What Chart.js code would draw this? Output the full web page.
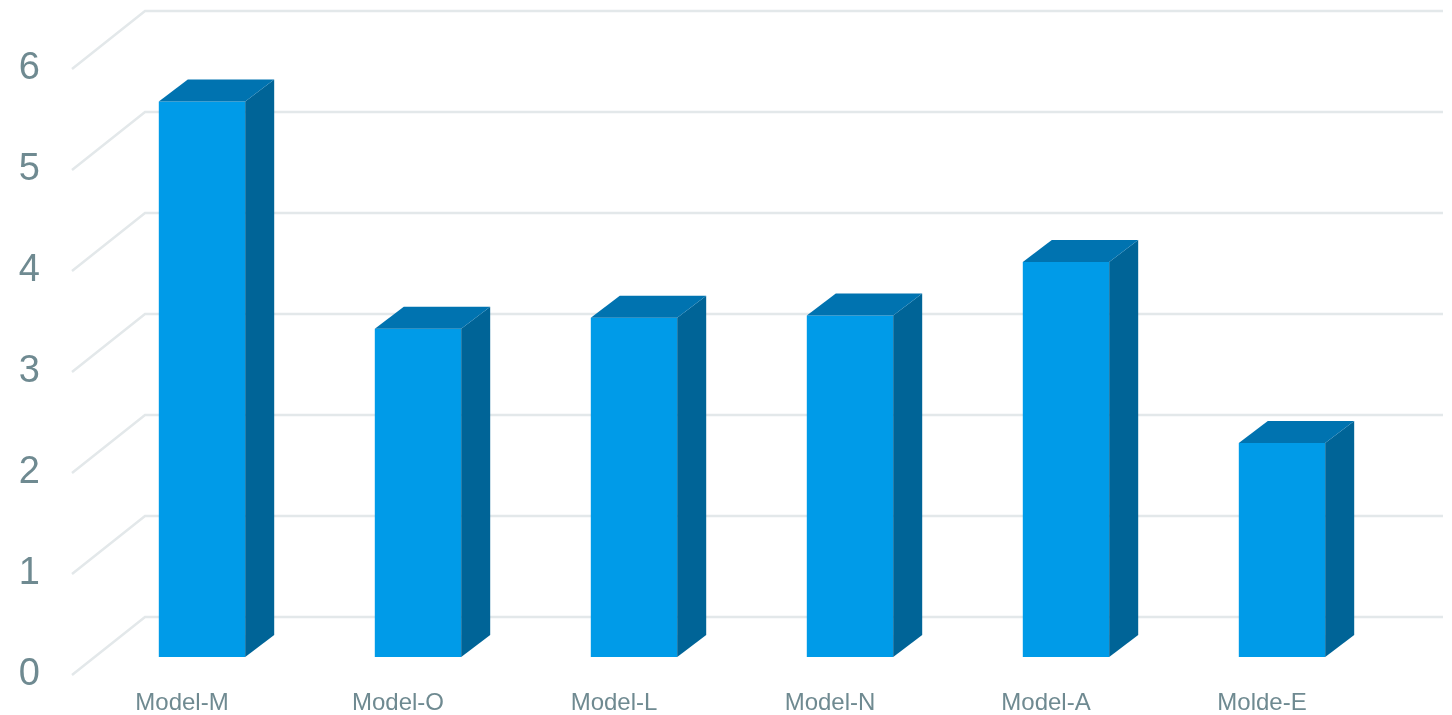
<!DOCTYPE html>
<html>
<head>
<meta charset="utf-8">
<script src="https://cdn.jsdelivr.net/npm/chart.js@4.4.1/dist/chart.umd.min.js"></script>
<style>
    html, body { margin: 0; padding: 0; background: #ffffff; }
    #chartBox { width: 1452px; height: 715px; }
</style>
</head>
<body>
<div id="chartBox"><canvas id="barChart" width="1452" height="715"></canvas></div>
<script>
const categories = ['Model-M', 'Model-O', 'Model-L', 'Model-N', 'Model-A', 'Molde-E'];
const scores = [5.5, 3.25, 3.36, 3.38, 3.91, 2.12];
const yTicks = [0, 1, 2, 3, 4, 5, 6];

// 3D look: bar depth and the floor/wall offsets relative to the bar plane
const DEPTH_X = 29, DEPTH_Y = -22;
const FRONT_OFF = 18, BACK_OFF = -40;
const WALL_LEFT = 72, WALL_BACK = 145, WALL_RIGHT = 1443;

const FRONT_COLOR = '#009be8';
const TOP_COLOR = '#0073b0';
const SIDE_COLOR = '#006497';
const LABEL_COLOR = '#6f8a91';
const GRID_COLOR = '#e3e8ea';

// Side wall + back wall gridlines, drawn behind the bars
const wallGrid = {
    id: 'wallGrid',
    beforeDatasetsDraw(chart) {
        const ctx = chart.ctx;
        const y = chart.scales.y;
        ctx.save();
        ctx.strokeStyle = GRID_COLOR;
        ctx.lineWidth = 2.5;
        yTicks.forEach(v => {
            const py = y.getPixelForValue(v);
            ctx.beginPath();
            ctx.moveTo(WALL_LEFT, py + FRONT_OFF);
            ctx.lineTo(WALL_BACK, py + BACK_OFF);
            ctx.lineTo(WALL_RIGHT, py + BACK_OFF);
            ctx.stroke();
        });
        ctx.restore();
    }
};

// Top and side faces on each bar
const barFaces = {
    id: 'barFaces',
    afterDatasetsDraw(chart) {
        const ctx = chart.ctx;
        const meta = chart.getDatasetMeta(0);
        ctx.save();
        meta.data.forEach(bar => {
            const p = bar.getProps(['x', 'y', 'base', 'width'], true);
            const left = p.x - p.width / 2;
            const right = p.x + p.width / 2;
            const top = p.y, base = p.base;

            ctx.fillStyle = SIDE_COLOR;
            ctx.beginPath();
            ctx.moveTo(right, top);
            ctx.lineTo(right + DEPTH_X, top + DEPTH_Y);
            ctx.lineTo(right + DEPTH_X, base + DEPTH_Y);
            ctx.lineTo(right, base);
            ctx.closePath();
            ctx.fill();

            ctx.fillStyle = TOP_COLOR;
            ctx.beginPath();
            ctx.moveTo(left, top);
            ctx.lineTo(left + DEPTH_X, top + DEPTH_Y);
            ctx.lineTo(right + DEPTH_X, top + DEPTH_Y);
            ctx.lineTo(right, top);
            ctx.closePath();
            ctx.fill();
        });
        ctx.restore();
    }
};

const ctx = document.getElementById('barChart').getContext('2d');
new Chart(ctx, {
    type: 'bar',
    data: {
        labels: categories,
        datasets: [{
            data: scores,
            backgroundColor: FRONT_COLOR,
            borderWidth: 0,
            barPercentage: 0.4,
            categoryPercentage: 1
        }]
    },
    options: {
        responsive: false,
        animation: false,
        layout: { padding: { top: 51, right: 62, bottom: 0, left: 0 } },
        plugins: { legend: { display: false }, tooltip: { enabled: false } },
        scales: {
            x: {
                offset: true,
                grid: { display: false, drawTicks: false },
                border: { display: false },
                afterFit: scale => { scale.height = 58; },
                ticks: {
                    color: LABEL_COLOR,
                    font: { family: "'Liberation Sans', Arial, sans-serif", size: 24 },
                    padding: 32,
                    labelOffset: -20,
                    maxRotation: 0,
                    autoSkip: false
                }
            },
            y: {
                min: 0,
                max: 6,
                grid: { display: false, drawTicks: false },
                border: { display: false },
                afterFit: scale => {
                    scale.width = 94;
                    // labels sit on the front wall, so no extra room above/below
                    scale.paddingTop = 0;
                    scale.paddingBottom = 0;
                },
                afterBuildTicks: scale => { scale.ticks = yTicks.map(v => ({ value: v })); },
                ticks: {
                    color: LABEL_COLOR,
                    font: { family: "'Liberation Sans', Arial, sans-serif", size: 38 },
                    padding: 54,
                    labelOffset: 18
                }
            }
        }
    },
    plugins: [wallGrid, barFaces]
});
</script>
</body>
</html>
